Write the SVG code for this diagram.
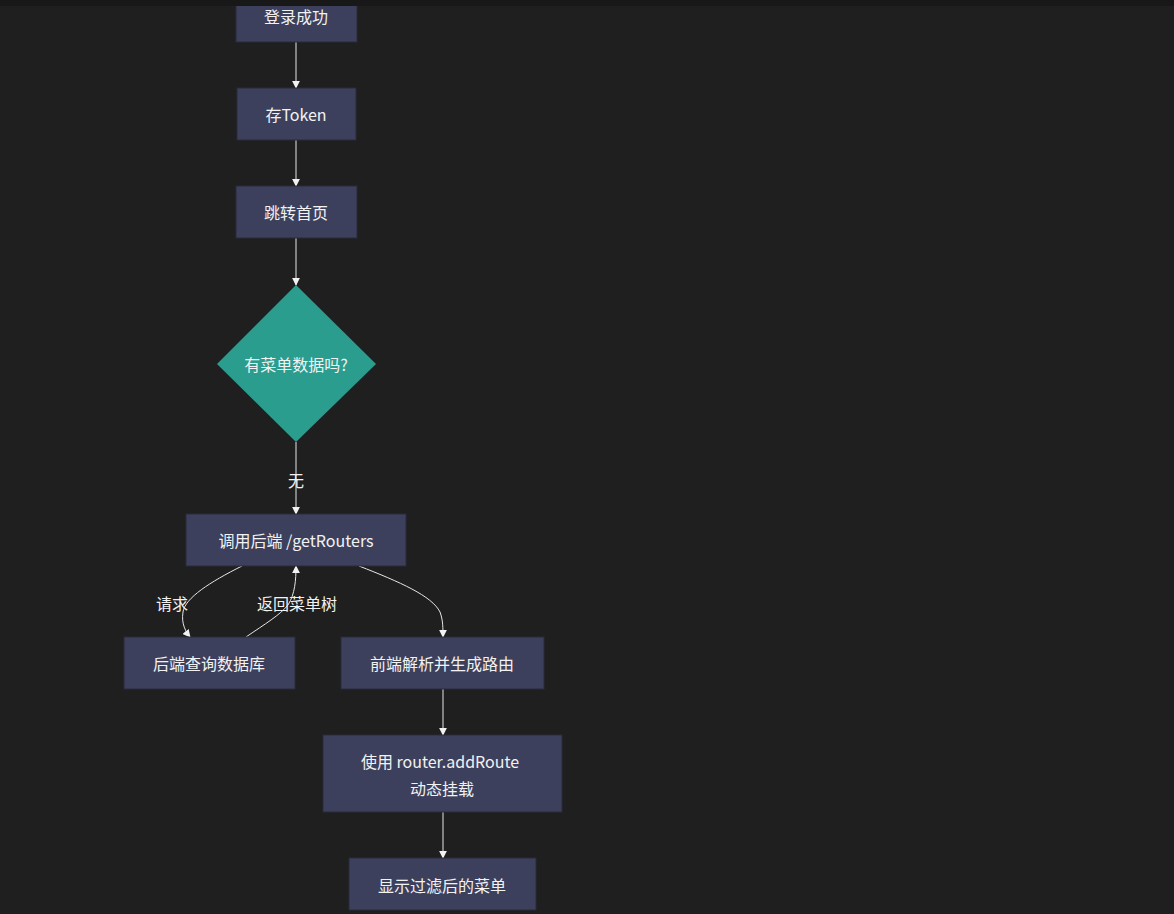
<svg xmlns="http://www.w3.org/2000/svg" width="1174" height="914" viewBox="0 0 1174 914">
<defs>
<style>
.bg{fill:#1f1f1f}
.node rect{fill:#3d405c;stroke:#2a2b3d;stroke-width:1}
.node text,.lbl{font-family:"Noto Sans CJK SC","Liberation Sans",sans-serif;font-size:16px;fill:#f2f2f2;text-anchor:middle;dominant-baseline:central}
.edge{fill:none;stroke:#e6e6e6;stroke-width:1}
</style>
<marker id="arr" viewBox="0 0 10 10" refX="9" refY="5" markerWidth="8" markerHeight="8" orient="auto" markerUnits="userSpaceOnUse">
<path d="M0,0L10,5L0,10z" fill="#f2f2f2"/>
</marker>
</defs>
<rect class="bg" x="0" y="0" width="1174" height="914"/>
<g id="connectors">
<path class="edge" d="M296,42L296,88" marker-end="url(#arr)"/>
<path class="edge" d="M296,140L296,186" marker-end="url(#arr)"/>
<path class="edge" d="M296,238L296,285" marker-end="url(#arr)"/>
<path class="edge" d="M296,442L296,514" marker-end="url(#arr)"/>
<path class="edge" d="M242,566C210,582 185,598 183,612C181,624 186,632 190,637" marker-end="url(#arr)"/>
<path class="edge" d="M246,637C265,624 280,615 288,605C295,594 296,580 296,566" marker-end="url(#arr)"/>
<path class="edge" d="M359,566C400,582 432,596 440,612C443,620 443,628 443,637" marker-end="url(#arr)"/>
<path class="edge" d="M443,689L443,735" marker-end="url(#arr)"/>
<path class="edge" d="M443,812L443,858" marker-end="url(#arr)"/>
<text class="lbl" x="296" y="480">无</text>
<text class="lbl" x="172" y="603">请求</text>
<text class="lbl" x="297" y="603">返回菜单树</text>
</g>
<g id="n1" class="node"><rect x="236" y="-10" width="121" height="52"/><text x="296" y="16">登录成功</text></g>
<g id="n2" class="node"><rect x="237" y="88" width="119" height="52"/><text x="296" y="114">存Token</text></g>
<g id="n3" class="node"><rect x="236" y="186" width="121" height="52"/><text x="296" y="212">跳转首页</text></g>
<g id="n4" class="node"><polygon points="296,285 376,364 296,442 217,364" fill="#2a9d8f"/><text x="296" y="364">有菜单数据吗?</text></g>
<g id="n5" class="node"><rect x="186" y="514" width="220" height="52"/><text x="296" y="540">调用后端 /getRouters</text></g>
<g id="n6" class="node"><rect x="124" y="637" width="171" height="52"/><text x="209" y="663">后端查询数据库</text></g>
<g id="n7" class="node"><rect x="341" y="637" width="203" height="52"/><text x="442" y="663">前端解析并生成路由</text></g>
<g id="n8" class="node"><rect x="323" y="735" width="239" height="77"/><text x="440" y="761">使用 router.addRoute</text><text x="442" y="788">动态挂载</text></g>
<g id="n9" class="node"><rect x="349" y="858" width="187" height="52"/><text x="442" y="885">显示过滤后的菜单</text></g>
<rect x="0" y="0" width="1174" height="6" fill="#181818"/>
</svg>
